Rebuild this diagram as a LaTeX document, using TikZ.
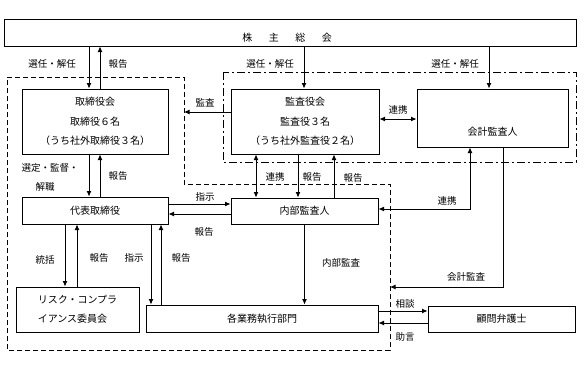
\documentclass[tikz,border=0pt]{standalone}
\usepackage{fontspec}
\setmainfont{Noto Sans CJK JP}
\usetikzlibrary{arrows.meta}
\begin{document}
\begin{tikzpicture}[x=1pt,y=-1pt,
  box/.style={draw, line width=1pt, inner sep=0pt, font=\fontsize{10}{12}\selectfont},
  txt/.style={inner sep=0pt, font=\fontsize{10}{12}\selectfont},
  lbl/.style={inner sep=0pt, font=\fontsize{9.5}{11}\selectfont},
  arr/.style={line width=0.9pt, -{Latex[length=5.5pt,width=5pt]}},
  arrb/.style={line width=0.9pt, {Latex[length=5.5pt,width=5pt]}-{Latex[length=5.5pt,width=5pt]}},
  dashline/.style={line width=1pt, dash pattern=on 5pt off 3pt},
  dashdotline/.style={line width=1pt, dash pattern=on 8pt off 3pt on 2pt off 3pt}]
\useasboundingbox (0,0) rectangle (586,364);

% regions
\coordinate (d1) at (7,77);
\coordinate (d2) at (184,77);
\coordinate (d3) at (184,184);
\coordinate (d4) at (390,184);
\coordinate (d5) at (390,350);
\coordinate (d6) at (7,350);
\draw[dashline] (d1) -- (d2) -- (d3) -- (d4) -- (d5) -- (d6) -- cycle;
\coordinate (a1) at (223,72);
\coordinate (a2) at (576,162);
\draw[dashdotline] (a1) rectangle (a2);

% boxes
\node[box, minimum width=572pt, minimum height=27pt] (soukai) at (290,32.5) {};
\node[txt] (tsoukai) at (287,38) {株\hspace{16.5pt}主\hspace{16.5pt}総\hspace{16.5pt}会};
\node[box, minimum width=146pt, minimum height=65pt, align=center] (board) at (95,121.5)
  {取締役会\\[7.5pt]取締役６名\\[7.5pt]（うち社外取締役３名）};
\node[box, minimum width=148pt, minimum height=65pt, align=center] (kansa) at (305,121.5)
  {監査役会\\[7.5pt]監査役３名\\[7.5pt]（うち社外監査役２名）};
\node[box, minimum width=151pt, minimum height=58pt] (kaikei) at (492.5,118) {};
\node[txt] (tkaikei) at (492.5,132) {会計監査人};
\node[box, minimum width=146pt, minimum height=27pt] (ceo) at (95,210.5) {代表取締役};
\node[box, minimum width=147pt, minimum height=26pt] (naibu) at (304.5,211) {内部監査人};
\node[box, minimum width=123pt, minimum height=45pt, align=left] (risk) at (77.5,309.5)
  {リスク・コンプラ\\[7pt]イアンス委員会};
\node[box, minimum width=232pt, minimum height=27pt] (gyomu) at (262,318.5) {各業務執行部門};
\node[box, minimum width=147pt, minimum height=26pt] (bengo) at (501.5,319) {顧問弁護士};
\coordinate (kaudit) at (390,287);

% connectors
\draw[arr] ([xshift=-6pt]board.north |- soukai.south) -- ([xshift=-6pt]board.north);
\draw[arr] ([xshift=5pt]board.north) -- ([xshift=5pt]board.north |- soukai.south);
\draw[arr] ([xshift=-1pt]kansa.north |- soukai.south) -- ([xshift=-1pt]kansa.north);
\draw[arr] ([xshift=-3.5pt]kaikei.north |- soukai.south) -- ([xshift=-3.5pt]kaikei.north);
\draw[arr] ([yshift=9.5pt]kansa.west) -- ([yshift=9.5pt]kansa.west -| d2);
\draw[arrb] ([yshift=2.5pt]kansa.east) -- ([yshift=2.5pt]kansa.east -| kaikei.west);
\draw[arr] ([xshift=-6pt]board.south) -- ([xshift=-6pt]board.south |- ceo.north);
\draw[arr] ([xshift=5pt]board.south |- ceo.north) -- ([xshift=5pt]board.south);
\draw[arr] ([yshift=6.5pt]ceo.east) -- ([yshift=6.5pt]ceo.east -| naibu.west);
\draw[arr] ([yshift=-3.5pt]ceo.east -| naibu.west) -- ([yshift=-3.5pt]ceo.east);
\draw[arr] ([xshift=-30pt]ceo.south) -- ([xshift=-30pt]ceo.south |- risk.north);
\draw[arr] ([xshift=-18pt]ceo.south |- risk.north) -- ([xshift=-18pt]ceo.south);
\draw[arr] ([xshift=56pt]ceo.south) -- ([xshift=56pt]ceo.south |- gyomu.north);
\draw[arr] ([xshift=66pt]ceo.south |- gyomu.north) -- ([xshift=66pt]ceo.south);
\draw[arrb] ([xshift=-49pt]kansa.south) -- ([xshift=-49pt]kansa.south |- naibu.north);
\draw[arr] ([xshift=-7pt]kansa.south) -- ([xshift=-7pt]kansa.south |- naibu.north);
\draw[arr] ([xshift=29pt]kansa.south |- naibu.north) -- ([xshift=29pt]kansa.south);
\draw[arrb] ([xshift=-22.5pt]kaikei.south) |- ([yshift=2pt]naibu.east);
\draw[arr] ([xshift=10.5pt]kaikei.south) |- (kaudit);
\draw[arr] (naibu.south) -- (naibu.south |- gyomu.north);
\draw[arr] ([yshift=7.5pt]gyomu.east) -- ([yshift=7.5pt]gyomu.east -| bengo.west);
\draw[arr] ([yshift=-4.5pt]gyomu.east -| bengo.west) -- ([yshift=-4.5pt]gyomu.east);

% labels
\node[lbl] (l1) at (52,64) {選任・解任};
\node[lbl] (l2) at (118,64) {報告};
\node[lbl] (l3) at (270,64) {選任・解任};
\node[lbl] (l4) at (455,64) {選任・解任};
\node[lbl] (l5) at (205,103) {監査};
\node[lbl] (l6) at (398,110) {連携};
\node[lbl] (l7) at (50,168) {選定・監督・};
\node[lbl] (l8) at (45,187) {解職};
\node[lbl] (l9) at (118,176) {報告};
\node[lbl] (l10) at (205,197) {指示};
\node[lbl] (l11) at (204,232) {報告};
\node[lbl] (l12) at (45,260) {統括};
\node[lbl] (l13) at (99,258) {報告};
\node[lbl] (l14) at (134,258) {指示};
\node[lbl] (l15) at (181,258) {報告};
\node[lbl] (l16) at (275,177) {連携};
\node[lbl] (l17) at (312,177) {報告};
\node[lbl] (l18) at (353,178) {報告};
\node[lbl] (l19) at (447,201) {連携};
\node[lbl] (l20) at (341,263) {内部監査};
\node[lbl] (l21) at (466,277) {会計監査};
\node[lbl] (l22) at (405,304) {相談};
\node[lbl] (l23) at (405,337) {助言};
\end{tikzpicture}
\end{document}
